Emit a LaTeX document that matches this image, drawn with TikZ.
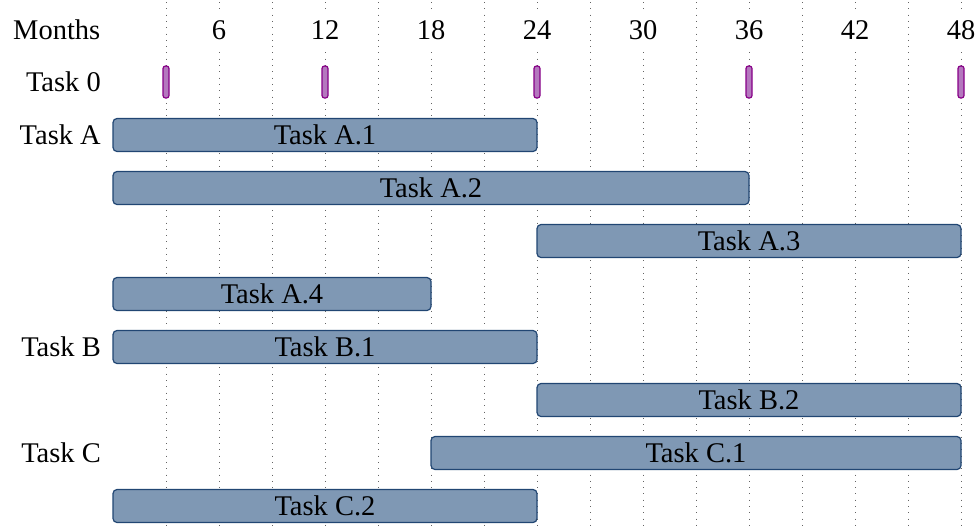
\documentclass[tikz,border=0pt]{standalone}
\usepackage{fontspec}
\setmainfont{Liberation Serif}
\definecolor{barfill}{RGB}{127,152,180}
\definecolor{barline}{RGB}{33,70,115}
\definecolor{msfill}{RGB}{180,120,190}
\definecolor{msline}{RGB}{135,0,135}
\definecolor{gridc}{RGB}{100,100,100}
\begin{document}
\begin{tikzpicture}[x=1pt,y=-1pt,
  txt/.style={inner sep=0pt,font=\fontsize{28.5}{31}\selectfont,text height=18.9pt,text depth=0pt},
  rowlabel/.style={txt,anchor=east},
  monthlabel/.style={txt,fill=white,minimum height=40pt,inner xsep=3pt},
  bar/.style={txt,draw=barline,fill=barfill,line width=1.2pt,rounded corners=4pt,minimum height=33pt},
  milestone/.style={draw=msline,fill=msfill,line width=1.2pt,rounded corners=2.5pt,minimum width=6pt,minimum height=32pt,inner sep=0pt},
  gridline/.style={gridc,line width=0.9pt,dash pattern=on 1pt off 5.3pt}]
\useasboundingbox (0,0) rectangle (976,531);
% month grid: one dotted line every three months
\foreach \m in {3,6,...,48}
  \draw[gridline] ({113+17.6667*\m},2) -- ({113+17.6667*\m},531);
% header
\node[rowlabel] (months) at (100.5,30) {Months};
\foreach \m in {6,12,...,48}
  \node[monthlabel] (h\m) at ({113+17.6667*\m},30) {\m};
% row labels
\node[rowlabel] (t0) at (101,82) {Task 0};
\node[rowlabel] (tA) at (101,135) {Task A};
\node[rowlabel] (tB) at (101,347) {Task B};
\node[rowlabel] (tC) at (101,453) {Task C};
% milestones of task 0
\foreach \m in {3,12,24,36,48}
  \node[milestone] (ms\m) at ({113+17.6667*\m},82) {};
% task bars (start month, end month)
\node[bar,minimum width=424pt] (a1) at (325,135) {Task A.1};
\node[bar,minimum width=636pt] (a2) at (431,188) {Task A.2};
\node[bar,minimum width=424pt] (a3) at (749,241) {Task A.3};
\node[bar,minimum width=318pt] (a4) at (272,294) {Task A.4};
\node[bar,minimum width=424pt] (b1) at (325,347) {Task B.1};
\node[bar,minimum width=424pt] (b2) at (749,400) {Task B.2};
\node[bar,minimum width=530pt] (c1) at (696,453) {Task C.1};
\node[bar,minimum width=424pt] (c2) at (325,506) {Task C.2};
\end{tikzpicture}
\end{document}
